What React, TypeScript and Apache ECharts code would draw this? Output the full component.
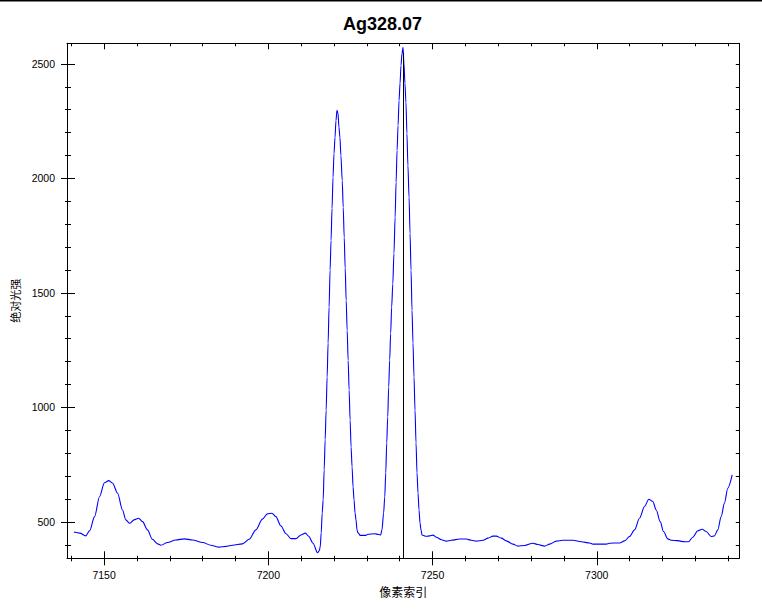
import React, { useEffect, useRef } from "react";
import * as echarts from "echarts";

const titleText = "Ag328.07";
const xAxisName = "像素索引";
const yAxisName = "绝对光强";

const pixelIndex = [
  7140.8, 7142.6, 7144.4, 7145.6, 7147.1, 7148.6, 7150.1, 7151.4, 7152.6, 7154.1,
  7155.6, 7156.6, 7157.8, 7159.1, 7160.5, 7161.7, 7163.2, 7164.7, 7166.3, 7167.3,
  7169.3, 7171.8, 7174.4, 7176.9, 7180.0, 7182.5, 7185.0, 7187.1, 7189.1, 7192.1,
  7194.2, 7196.2, 7198.2, 7199.7, 7201.1, 7202.3, 7203.8, 7205.4, 7206.9, 7208.4,
  7209.9, 7211.3, 7212.3, 7213.6, 7215.0, 7215.5, 7215.8, 7216.1, 7216.4, 7216.7,
  7217.0, 7217.3, 7217.6, 7217.9, 7218.2, 7218.5, 7218.8, 7219.1, 7219.4, 7219.7,
  7220.0, 7220.3, 7220.6, 7220.9, 7221.2, 7221.5, 7221.8, 7222.1, 7222.5, 7222.8,
  7223.1, 7223.4, 7223.7, 7224.0, 7224.3, 7224.6, 7224.9, 7225.2, 7225.5, 7225.8,
  7226.1, 7226.4, 7226.7, 7227.0, 7227.3, 7228.0, 7229.7, 7230.3, 7232.4, 7233.6,
  7234.2, 7234.6, 7235.1, 7235.45, 7235.75, 7236.05, 7236.35, 7236.65, 7236.95, 7237.25,
  7237.55, 7237.9, 7238.25, 7238.6, 7238.9, 7239.2, 7239.5, 7239.8, 7240.1, 7240.4,
  7240.7, 7241.0, 7241.3, 7241.6, 7241.9, 7242.2, 7242.5, 7242.85, 7243.15, 7243.45,
  7243.75, 7244.05, 7244.36, 7244.66, 7244.97, 7245.27, 7245.58, 7245.88, 7246.18, 7246.49,
  7246.79, 7248.13, 7249.13, 7250.14, 7251.17, 7252.7, 7254.22, 7255.74, 7258.26, 7260.3,
  7261.82, 7263.34, 7265.35, 7266.87, 7268.39, 7269.43, 7270.95, 7272.47, 7274.48, 7276.0,
  7278.04, 7280.56, 7282.08, 7284.12, 7285.64, 7287.68, 7289.69, 7292.73, 7295.29, 7297.81,
  7298.82, 7302.89, 7303.9, 7306.94, 7308.46, 7309.98, 7311.5, 7313.02, 7314.54, 7315.85,
  7317.07, 7318.1, 7319.32, 7320.32, 7321.63, 7322.67, 7324.67, 7326.2, 7327.93, 7329.24,
  7330.76, 7332.1, 7333.31, 7334.84, 7335.84, 7336.84, 7337.88, 7338.88, 7339.89, 7341.23,
];

const intensity = [
  456, 451, 439, 462, 523, 610, 671, 680, 669, 625,
  552, 509, 494, 509, 516, 501, 465, 424, 404, 398,
  410, 421, 426, 421, 410, 398, 390, 393, 398, 404,
  424, 465, 512, 535, 538, 523, 483, 448, 427, 427,
  443, 451, 437, 407, 365, 374, 391, 452, 539, 596,
  727, 858, 988, 1132, 1281, 1438, 1599, 1730, 1869, 2005,
  2109, 2179, 2253, 2297, 2287, 2224, 2179, 2100, 1991, 1874,
  1743, 1608, 1468, 1337, 1206, 1076, 945, 827, 740, 653,
  596, 539, 509, 465, 452, 441, 441, 446, 448, 445,
  443, 465, 539, 609, 714, 845, 958, 1089, 1207, 1324,
  1438, 1540, 1673, 1830, 1983, 2122, 2231, 2340, 2415, 2493,
  2545, 2572, 2500, 2415, 2332, 2196, 2057, 1917, 1760, 1599,
  1424, 1281, 1132, 988, 845, 714, 626, 552, 496, 465,
  443, 437, 439, 442, 433, 422, 416, 420, 425, 425,
  420, 416, 420, 429, 438, 438, 429, 417, 403, 394,
  397, 407, 401, 394, 403, 416, 420, 420, 413, 408,
  403, 403, 407, 408, 417, 436, 465, 516, 567, 599,
  589, 552, 501, 458, 426, 420, 418, 414, 413, 433,
  461, 468, 458, 436, 439, 465, 523, 582, 647, 705,
];

const xMajorTicks = [7150, 7200, 7250, 7300];
const xMinorTicks = [
  7140, 7160, 7170, 7180, 7190, 7210, 7220, 7230, 7240, 7260, 7270, 7280, 7290,
  7310, 7320, 7330, 7340,
];
const yMajorTicks = [500, 1000, 1500, 2000, 2500];
const yMinorTicks = [
  400, 600, 700, 800, 900, 1100, 1200, 1300, 1400, 1600, 1700, 1800, 1900,
  2100, 2200, 2300, 2400,
];

const xMin = 7138.7;
const xMax = 7343.4;
const yMin = 341;
const yMax = 2590;

const markerX = 7241.0;
const markerTop = 2548;

const LATIN = "'Liberation Sans', Arial, sans-serif";
const CJK = "'Noto Sans CJK SC', 'Liberation Sans', sans-serif";

const plainNumber = (v: number) => String(v);

function makeX(position: string, ticks: number[], inside: boolean, length: number, extra: any = {}) {
  return {
    type: "value",
    position,
    min: xMin,
    max: xMax,
    axisLine: { show: false, onZero: false, lineStyle: { color: "#000", width: 1 } },
    axisTick: { show: true, inside, length, customValues: ticks, lineStyle: { color: "#000", width: 1 } },
    axisLabel: { show: false },
    splitLine: { show: false },
    minorTick: { show: false },
    ...extra,
  };
}

function makeY(position: string, ticks: number[], inside: boolean, length: number, extra: any = {}) {
  return {
    type: "value",
    position,
    min: yMin,
    max: yMax,
    axisLine: { show: false, onZero: false, lineStyle: { color: "#000", width: 1 } },
    axisTick: { show: true, inside, length, customValues: ticks, lineStyle: { color: "#000", width: 1 } },
    axisLabel: { show: false },
    splitLine: { show: false },
    minorTick: { show: false },
    ...extra,
  };
}

export default function App() {
  const ref = useRef<HTMLDivElement>(null);

  useEffect(() => {
    if (!ref.current) return;
    const chart = echarts.init(ref.current, null, { renderer: "svg" });
    const points = pixelIndex.map((x, i) => [x, intensity[i]]);

    chart.setOption({
      animation: false,
      backgroundColor: "#fff",
      title: {
        text: titleText,
        left: 338,
        top: 10,
        textStyle: { fontSize: 18, fontWeight: "bold", fontFamily: LATIN, color: "#000" },
      },
      graphic: [
        { type: "rect", left: 0, top: 0, shape: { x: 0, y: 0, width: 762, height: 1.5 }, style: { fill: "#000" } },
      ],
      grid: { left: 67, right: 22.7, top: 43.3, bottom: 50.7, containLabel: false, outerBoundsMode: "none" },
      xAxis: [
        makeX("bottom", xMajorTicks, false, 7, {
          axisLine: { show: true, onZero: false, lineStyle: { color: "#000", width: 1 } },
          axisLabel: {
            show: true,
            customValues: xMajorTicks,
            formatter: plainNumber,
            margin: 11,
            color: "#000",
            fontSize: 10.5,
            fontFamily: LATIN,
          },
          name: xAxisName,
          nameLocation: "middle",
          nameGap: 27,
          nameTextStyle: { fontSize: 12, fontFamily: CJK, color: "#000" },
        }),
        makeX("bottom", xMajorTicks, true, 7),
        makeX("bottom", xMinorTicks, false, 3),
        makeX("bottom", xMinorTicks, true, 2.5),
        makeX("top", xMajorTicks, true, 6, {
          axisLine: { show: true, onZero: false, lineStyle: { color: "#000", width: 1 } },
        }),
        makeX("top", xMinorTicks, true, 3),
      ],
      yAxis: [
        makeY("left", yMajorTicks, false, 6, {
          axisLine: { show: true, onZero: false, lineStyle: { color: "#000", width: 1 } },
          axisLabel: {
            show: true,
            customValues: yMajorTicks,
            formatter: plainNumber,
            margin: 12,
            color: "#000",
            fontSize: 10.5,
            fontFamily: LATIN,
          },
          name: yAxisName,
          nameLocation: "middle",
          nameGap: 34,
          nameTextStyle: { fontSize: 11, fontFamily: CJK, color: "#000" },
        }),
        makeY("left", yMajorTicks, true, 8),
        makeY("left", yMinorTicks, false, 2),
        makeY("left", yMinorTicks, true, 4),
        makeY("right", [...yMajorTicks, ...yMinorTicks], true, 3.5, {
          axisLine: { show: true, onZero: false, lineStyle: { color: "#000", width: 1 } },
        }),
      ],
      series: [
        {
          type: "line",
          xAxisIndex: 0,
          yAxisIndex: 0,
          data: points,
          symbol: "none",
          showSymbol: false,
          smooth: 0.3,
          smoothMonotone: "x",
          lineStyle: { color: "#0000ff", width: 1.1 },
          markLine: {
            silent: true,
            symbol: ["none", "none"],
            label: { show: false },
            lineStyle: { color: "#000", width: 1, type: "solid" },
            data: [[{ coord: [markerX, yMin] }, { coord: [markerX, markerTop] }]],
          },
        },
      ],
    });

    return () => chart.dispose();
  }, []);

  return (
    <div
      ref={ref}
      style={{ position: "fixed", left: 0, top: 0, width: 762, height: 609, background: "#fff" }}
    />
  );
}
